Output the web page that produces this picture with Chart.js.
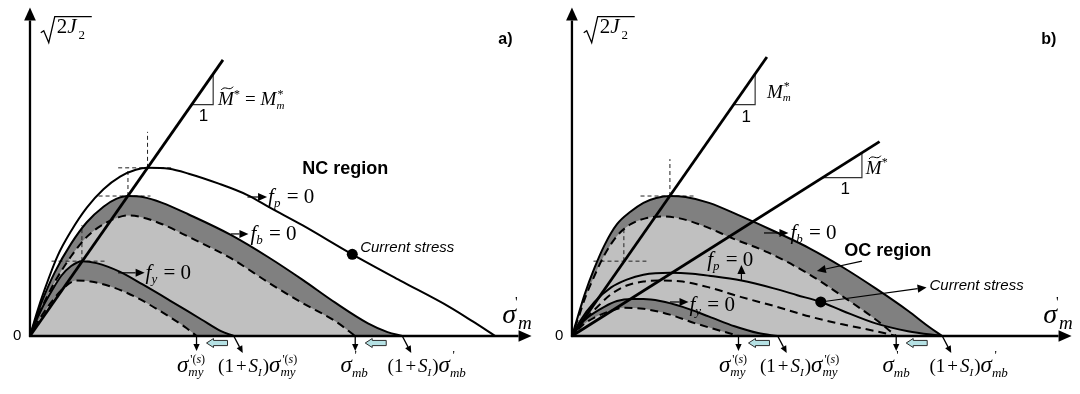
<!DOCTYPE html>
<html>
<head>
<meta charset="utf-8">
<script src="https://cdn.jsdelivr.net/npm/chart.js@4.4.1/dist/chart.umd.min.js"></script>
<style>
  html, body { margin: 0; padding: 0; background: #fff; }
  #wrap { position: relative; width: 1080px; height: 394px; overflow: hidden; }
  #wrap canvas { position: absolute; top: 0; }
</style>
</head>
<body>
<div id="wrap">
  <canvas id="panelA" width="540" height="394" style="left:0"></canvas>
  <canvas id="panelB" width="540" height="394" style="left:540px"></canvas>
</div>
<script>
// Yield surfaces in the (σ'm, √(2J2)) plane, arbitrary units.
// Panel a) — normally consolidated state
const aFp       = [[0,0],[7,24],[15,48],[28,82],[42,108],[58,132],[75,151],[92,164],[108,171],[120,173],[142,172],[162,167],[192,157],[222,145],[245,132],[278,114],[329,84],[378,57],[428,30],[452,15],[475,0]];
const aFbSolid  = [[0,0],[6,18],[12,35],[25,65],[42,95],[58,117],[75,133],[88,141],[100,144],[115,143],[135,137],[162,125],[205,104],[245,80],[278,58],[312,34],[345,13],[365,4],[380,0]];
const aFbDashed = [[0,0],[6,15],[12,29],[25,55],[42,82],[58,102],[75,115],[90,122],[100,124],[115,122],[135,115],[162,102],[205,80],[245,54],[278,34],[312,15],[332,0]];
const aFySolid  = [[0,0],[6,15],[12,28],[22,46],[32,62],[42,72],[53,77],[68,75],[92,66],[115,53],[142,37],[175,17],[195,5],[208,0]];
const aFyDashed = [[0,0],[6,11],[12,21],[22,35],[32,47],[47,57],[62,56],[85,50],[108,40],[142,20],[160,8],[170,0]];
const aCurrentStress = [329, 84];
const aSlopeM = 1.442;          // critical state line M~* = M*m
const aLineEndX = 197;
const aTriangleCorner = [187, 238];
const aGuides = [
  [[120,173],[120,210]], [[90,173],[145,173]],
  [[100,144],[100,173]], [[70,144],[123,144]],
  [[53,77],[53,114]],    [[22,77],[77,77]]
];

// Panel b) — overconsolidated state
const bFbSolid  = [[0,0],[6,20],[13,43],[23,70],[33,93],[46,115],[60,128],[73,137],[86,142],[100,144],[116,143],[140,137],[173,123],[206,108],[243,90],[276,71],[310,49],[343,26],[365,9],[378,0]];
const bFbDashed = [[0,0],[6,17],[13,38],[23,62],[33,83],[46,103],[60,115],[75,121],[91,123],[110,121],[135,113],[165,100],[200,86],[243,63],[276,41],[310,17],[331,0]];
const bFpSolid  = [[0,0],[8,15],[23,35],[40,50],[56,58],[73,63],[100,65],[123,64],[140,62],[173,57],[206,49],[230,42],[254,35],[276,26],[310,13],[343,5],[378,0]];
const bFpDashed = [[0,0],[8,11],[23,27],[40,43],[56,52],[73,56],[93,57],[113,56],[140,50],[173,40],[206,31],[243,20],[276,12],[310,5],[331,0]];
const bFySolid  = [[0,0],[8,11],[16,19],[33,30],[46,36],[61,38],[73,38],[90,36],[113,30],[140,20],[166,10],[190,3],[210,0]];
const bFyDashed = [[0,0],[12,12],[23,19],[40,26],[53,29],[73,28],[100,22],[126,13],[153,5],[170,0]];
const bCurrentStress = [254, 35];
const bSlopeMm = 1.442;         // M*m
const bSlopeMt = 0.637;         // M~*
const bMmEndX = 199;
const bMtEndX = 314;
const bTriangleMm = [187, 238];
const bTriangleMt = [296, 163];
const bGuides = [
  [[100,144],[100,182]], [[70,144],[125,144]],
  [[53,77],[53,113]],    [[22,77],[76,77]]
];

const DARK = '#808080';
const LIGHT = '#c0c0c0';
const SERIF = '"Liberation Serif", "Times New Roman", serif';
const SANS = '"Liberation Sans", Arial, sans-serif';
const I = n => `italic ${n}px ${SERIF}`;
const R = n => `${n}px ${SERIF}`;

const toXY = arr => arr.map(([x, y]) => ({ x, y }));

function curve(points, dashed, fillColor) {
  return {
    data: toXY(points),
    borderColor: '#000',
    borderWidth: 2,
    borderDash: dashed ? [8, 5] : [],
    borderDashOffset: dashed ? 4 : 0,
    fill: fillColor ? 'origin' : false,
    backgroundColor: fillColor || 'rgba(0,0,0,0)',
    cubicInterpolationMode: 'monotone',
    pointRadius: 0
  };
}
function segment(points, width, dash, color) {
  return {
    data: toXY(points),
    borderColor: color || '#000',
    borderWidth: width,
    borderDash: dash || [],
    fill: false,
    tension: 0,
    pointRadius: 0,
    borderCapStyle: 'butt'
  };
}
function slopeTriangle(corner, slope) {
  const [cx, cy] = corner;
  return [[cy / slope, cy], [cx, cy], [cx, slope * cx]];
}
function dot(pt) {
  return {
    data: toXY([pt]), showLine: false, pointRadius: 5.5,
    pointBackgroundColor: '#000', pointBorderColor: '#000', pointBorderWidth: 0
  };
}

// ----- text helpers -----
function drawRuns(ctx, x, y, items) {
  let cx = x, mark = x;
  ctx.textAlign = 'left';
  ctx.textBaseline = 'alphabetic';
  for (const it of items) {
    ctx.font = it.f;
    if (it.back) cx = mark;
    if (it.mark) mark = cx;
    cx += it.dx || 0;
    const w = ctx.measureText(it.t).width;
    ctx.fillText(it.t, cx, y + (it.dy || 0));
    if (it.tilde) {
      const size = parseFloat(it.f.match(/(\d+)px/)[1]);
      const ty = y - size * 0.86, x0 = cx + w * 0.2, x1 = cx + w * 0.95;
      const h = size * 0.09;
      ctx.save();
      ctx.lineWidth = 1;
      ctx.beginPath();
      ctx.moveTo(x0, ty + h);
      ctx.bezierCurveTo(x0 + (x1 - x0) * 0.3, ty - 2.2 * h, x0 + (x1 - x0) * 0.7, ty + 2.2 * h, x1, ty - h);
      ctx.stroke();
      ctx.restore();
    }
    cx += w;
  }
}
const fEq = sub => [{ t: 'f', f: I(21) }, { t: sub, f: I(13), dy: 4 }, { t: ' = 0', f: R(21), dx: 1 }];
const sigmaMyS = () => [
  { t: 'σ', f: I(23) },
  { t: "'(", f: R(12), dx: 2, dy: -9, mark: true }, { t: 's', f: I(12), dy: -9 }, { t: ')', f: R(12), dy: -9 },
  { t: 'my', f: I(13), back: true, dy: 4 }
];
const sigmaMb = () => [
  { t: 'σ', f: I(23) },
  { t: "'", f: R(13), dx: 2.5, dy: -13, mark: true },
  { t: 'mb', f: I(13), back: true, dy: 5 }
];
const onePlusS = () => [
  { t: '(1', f: R(19) }, { t: '+', f: R(19), dx: 2 }, { t: 'S', f: I(19), dx: 2 },
  { t: 'I', f: I(11), dy: 4 }, { t: ')', f: R(19), dx: 1 }
];
const sigmaAxis = () => [
  { t: 'σ', f: I(28) },
  { t: "'", f: R(15), dx: -1, dy: -16, mark: true },
  { t: 'm', f: I(19), back: true, dy: 6, dx: 2 }
];

// ----- shapes -----
function arrowLine(ctx, x1, y1, x2, y2, head, lw) {
  const ang = Math.atan2(y2 - y1, x2 - x1);
  const hl = head, hw = head * 0.45;
  const bx = x2 - hl * Math.cos(ang), by = y2 - hl * Math.sin(ang);
  ctx.lineWidth = lw;
  ctx.beginPath();
  ctx.moveTo(x1, y1);
  ctx.lineTo(bx, by);
  ctx.stroke();
  ctx.beginPath();
  ctx.moveTo(x2, y2);
  ctx.lineTo(bx + hw * Math.sin(ang), by - hw * Math.cos(ang));
  ctx.lineTo(bx - hw * Math.sin(ang), by + hw * Math.cos(ang));
  ctx.closePath();
  ctx.fill();
}
function blockArrowLeft(ctx, x, y, len) {
  const hl = 7, hh = 4.5, sh = 2.6;
  ctx.beginPath();
  ctx.moveTo(x, y);
  ctx.lineTo(x + hl, y - hh);
  ctx.lineTo(x + hl, y - sh);
  ctx.lineTo(x + len, y - sh);
  ctx.lineTo(x + len, y + sh);
  ctx.lineTo(x + hl, y + sh);
  ctx.lineTo(x + hl, y + hh);
  ctx.closePath();
  ctx.fillStyle = '#b5e1e4';
  ctx.fill();
  ctx.lineWidth = 1;
  ctx.strokeStyle = '#2b2b2b';
  ctx.stroke();
}

// Annotation content for each panel (positions in data units)
const PANELS = {
  panelA: {
    axisTop: 338, axisRight: 512,
    tag: { at: [478, 305], t: 'a)' },
    radical: [11, 312],
    texts: [
      { at: [192, 238], runs: [{ t: 'M', f: I(19), tilde: true }, { t: '*', f: R(12), dy: -7 }, { t: '=', f: R(19), dx: 5 }, { t: 'M', f: I(19), dx: 5 }, { t: '*', f: R(12), dy: -7, dx: 1, mark: true }, { t: 'm', f: I(11), back: true, dy: 4 }] },
      { at: [243, 137], runs: fEq('p') },
      { at: [225, 99], runs: fEq('b') },
      { at: [118, 59], runs: fEq('y') },
      { at: [150, -37], runs: sigmaMyS() },
      { at: [192, -37], runs: onePlusS().concat(sigmaMyS()) },
      { at: [317, -37], runs: sigmaMb() },
      { at: [365, -37], runs: onePlusS().concat(sigmaMb()) },
      { at: [482, 13], runs: sigmaAxis() }
    ],
    plain: [
      { at: [177, 226], t: '1', f: `17px ${SANS}`, align: 'center' },
      { at: [278, 172], t: 'NC region', f: `bold 18px ${SANS}`, align: 'left' },
      { at: [337, 91], t: 'Current stress', f: `italic 15px ${SANS}`, align: 'left' }
    ],
    arrows: [
      [[222, 143], [242, 143]],
      [[205, 105], [223, 105]],
      [[90, 65], [117, 65]]
    ],
    dashedEnds: [aFyDashed, aFbDashed],
    solidEnds: [aFySolid, aFbSolid]
  },
  panelB: {
    axisTop: 338, axisRight: 510,
    tag: { at: [479, 305], t: 'b)' },
    radical: [12, 312],
    texts: [
      { at: [199, 245], runs: [{ t: 'M', f: I(19) }, { t: '*', f: R(12), dy: -8, dx: 1, mark: true }, { t: 'm', f: I(11), back: true, dy: 3 }] },
      { at: [300, 167], runs: [{ t: 'M', f: I(19), tilde: true }, { t: '*', f: R(12), dy: -8 }] },
      { at: [223, 100], runs: fEq('b') },
      { at: [138, 72], runs: fEq('p') },
      { at: [120, 26], runs: fEq('y') },
      { at: [150, -37], runs: sigmaMyS() },
      { at: [192, -37], runs: onePlusS().concat(sigmaMyS()) },
      { at: [317, -37], runs: sigmaMb() },
      { at: [365, -37], runs: onePlusS().concat(sigmaMb()) },
      { at: [481, 13], runs: sigmaAxis() }
    ],
    plain: [
      { at: [178, 225], t: '1', f: `17px ${SANS}`, align: 'center' },
      { at: [279, 151], t: '1', f: `17px ${SANS}`, align: 'center' },
      { at: [278, 87], t: 'OC region', f: `bold 18px ${SANS}`, align: 'left' },
      { at: [365, 52], t: 'Current stress', f: `italic 15px ${SANS}`, align: 'left' }
    ],
    arrows: [
      [[196, 106], [221, 106]],
      [[173, 57], [173, 73]],
      [[100, 35], [119, 35]],
      [[296, 77], [250, 67]],
      [bCurrentStress, [362, 50]]
    ],
    dashedEnds: [bFyDashed, bFbDashed],
    solidEnds: [bFySolid, bFbSolid]
  }
};

const decor = {
  id: 'decor',
  afterDatasetsDraw(chart) {
    const spec = PANELS[chart.canvas.id];
    if (!spec) return;
    const ctx = chart.ctx;
    const X = v => chart.scales.x.getPixelForValue(v);
    const Y = v => chart.scales.y.getPixelForValue(v);
    ctx.save();
    ctx.fillStyle = '#000';
    ctx.strokeStyle = '#000';
    ctx.setLineDash([]);

    // axes with arrowheads
    const ox = X(0), oy = Y(0);
    arrowLine(ctx, ox, oy + 1, ox, Y(spec.axisTop), 13, 2.3);
    arrowLine(ctx, ox - 1, oy, X(spec.axisRight), oy, 13, 2.3);

    // origin label
    ctx.font = `15px ${SANS}`;
    ctx.textAlign = 'center';
    ctx.textBaseline = 'middle';
    ctx.fillText('0', X(-13), oy);

    // panel tag
    ctx.font = `bold 16px ${SANS}`;
    ctx.textAlign = 'left';
    ctx.fillText(spec.tag.t, X(spec.tag.at[0]), Y(spec.tag.at[1]));

    // √(2J2)
    const rx = X(spec.radical[0]), ry = Y(spec.radical[1]);
    ctx.lineWidth = 1.3;
    ctx.beginPath();
    ctx.moveTo(rx, ry);
    ctx.lineTo(rx + 3, ry - 2);
    ctx.lineTo(rx + 8, ry + 10);
    ctx.lineTo(rx + 14, ry - 16);
    ctx.lineTo(rx + 51, ry - 16);
    ctx.stroke();
    drawRuns(ctx, rx + 16, ry, [{ t: '2', f: R(21) }, { t: 'J', f: I(21) }, { t: '2', f: R(13), dy: 6, dx: 2 }]);

    // plain labels
    for (const p of spec.plain) {
      ctx.font = p.f;
      ctx.textAlign = p.align;
      ctx.textBaseline = 'middle';
      ctx.fillText(p.t, X(p.at[0]), Y(p.at[1]));
    }
    // math labels
    for (const m of spec.texts) drawRuns(ctx, X(m.at[0]), Y(m.at[1]), m.runs);

    // pointer arrows
    for (const [a, b] of spec.arrows) arrowLine(ctx, X(a[0]), Y(a[1]), X(b[0]), Y(b[1]), 9, 1.2);

    // markers below the σ'm axis
    for (const d of spec.dashedEnds) {
      const xe = X(d[d.length - 1][0]);
      arrowLine(ctx, xe, oy, xe, oy + 15, 7, 1.3);
      blockArrowLeft(ctx, xe + 10, oy + 7, 21);
      ctx.fillStyle = '#000';
      ctx.strokeStyle = '#000';
    }
    for (const s of spec.solidEnds) {
      const xe = X(s[s.length - 1][0]);
      arrowLine(ctx, xe, oy, xe + 9, oy + 17, 7, 1.3);
    }
    ctx.restore();
  }
};

function build(id, datasets, xmin) {
  return new Chart(document.getElementById(id), {
    type: 'line',
    data: { datasets },
    options: {
      responsive: false,
      animation: false,
      devicePixelRatio: 1,
      layout: { padding: 0 },
      scales: {
        x: { type: 'linear', min: xmin, max: xmin + 540, display: false },
        y: { type: 'linear', min: -54, max: 340, display: false }
      },
      plugins: {
        legend: { display: false },
        tooltip: { enabled: false },
        filler: { drawTime: 'beforeDatasetsDraw' }
      },
      elements: { point: { radius: 0 } }
    },
    plugins: [decor]
  });
}

// Panel a) — fills are layered from the last dataset (bottom) to the first (top)
build('panelA', [
  curve(aFyDashed, true, LIGHT),
  curve(aFySolid, false, DARK),
  curve(aFbDashed, true, LIGHT),
  curve(aFbSolid, false, DARK),
  curve(aFp, false, null),
  segment([[0, 0], [aLineEndX, aSlopeM * aLineEndX]], 2.8),
  segment(slopeTriangle(aTriangleCorner, aSlopeM), 1.2, [], '#333'),
  ...aGuides.map(g => segment(g, 1, [4, 3], '#222')),
  dot(aCurrentStress)
], -25);

// Panel b)
build('panelB', [
  curve(bFyDashed, true, LIGHT),
  curve(bFySolid, false, DARK),
  curve(bFpSolid, false, LIGHT),
  curve(bFbDashed, true, LIGHT),
  curve(bFbSolid, false, DARK),
  curve(bFpDashed, true, null),
  segment([[0, 0], [bMmEndX, bSlopeMm * bMmEndX]], 2.8),
  segment([[0, 0], [bMtEndX, bSlopeMt * bMtEndX]], 2.8),
  segment(slopeTriangle(bTriangleMm, bSlopeMm), 1.2, [], '#333'),
  segment(slopeTriangle(bTriangleMt, bSlopeMt), 1.2, [], '#333'),
  ...bGuides.map(g => segment(g, 1, [4, 3], '#222')),
  dot(bCurrentStress)
], -27);
</script>
</body>
</html>
